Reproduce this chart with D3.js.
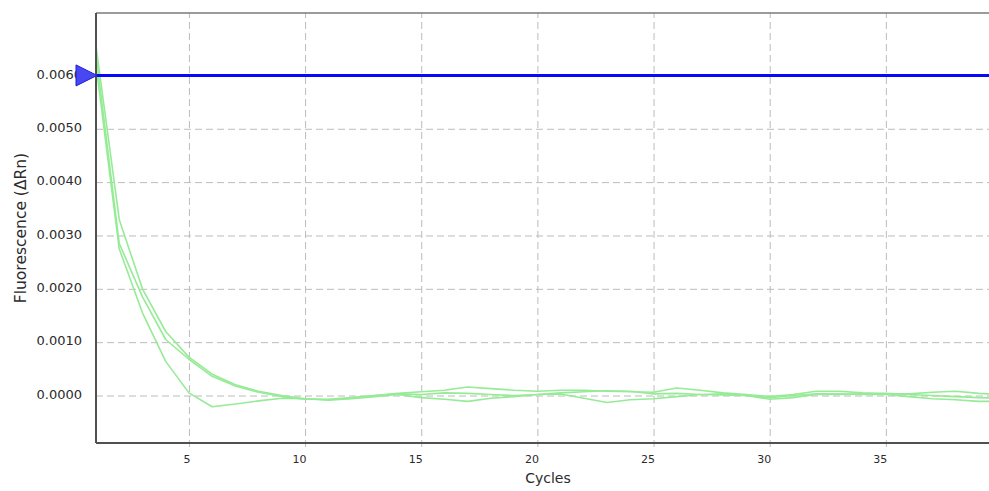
<!DOCTYPE html>
<html>
<head>
<meta charset="utf-8">
<script src="https://cdn.jsdelivr.net/npm/d3@7"></script>
<style>
  html, body { margin: 0; padding: 0; background: #fff; }
  svg { display: block; font-family: "DejaVu Sans", Verdana, sans-serif; }
</style>
</head>
<body>
<svg id="chart" width="989" height="491"></svg>
<script>
// Amplification plot: delta Rn per cycle for three wells, with threshold
const cycles = d3.range(1, 41);

const wellA = [0.00655, 0.00330, 0.00200, 0.00120, 0.00072, 0.00040, 0.00020, 0.00008, 0.00000, -0.00006,
               -0.00008, -0.00005, 0.00000, 0.00004, 0.00007, 0.00010, 0.00016, 0.00013, 0.00010, 0.00008,
               0.00010, 0.00010, 0.00008, 0.00007, 0.00006, 0.00014, 0.00010, 0.00005, 0.00002, -0.00002,
               0.00002, 0.00008, 0.00008, 0.00005, 0.00003, 0.00003, 0.00006, 0.00008, 0.00004, 0.00002];

const wellB = [0.00640, 0.00285, 0.00185, 0.00105, 0.00068, 0.00036, 0.00018, 0.00006, -0.00002, -0.00007,
               -0.00007, -0.00004, 0.00000, 0.00003, 0.00002, 0.00005, 0.00004, 0.00002, 0.00000, 0.00002,
               0.00005, 0.00007, 0.00009, 0.00008, 0.00003, 0.00004, 0.00002, 0.00001, 0.00000, -0.00004,
               0.00000, 0.00003, 0.00003, 0.00002, 0.00002, -0.00002, -0.00006, -0.00008, -0.00011, -0.00011];

const wellC = [0.00620, 0.00275, 0.00155, 0.00064, 0.00005, -0.00021, -0.00016, -0.00010, -0.00005, -0.00006,
               -0.00009, -0.00006, -0.00002, 0.00002, -0.00004, -0.00007, -0.00011, -0.00005, -0.00002, 0.00002,
               0.00003, -0.00005, -0.00013, -0.00008, -0.00006, -0.00002, 0.00002, 0.00003, 0.00000, -0.00007,
               -0.00004, 0.00002, 0.00002, 0.00003, 0.00004, 0.00002, 0.00000, -0.00002, -0.00004, -0.00005];

const wells = [wellA, wellB, wellC];

const threshold = 0.006;
const xTicks = [5, 10, 15, 20, 25, 30, 35];
const yTicks = [0, 0.001, 0.002, 0.003, 0.004, 0.005, 0.006];

const xTitle = "Cycles";
const yTitle = "Fluorescence (\u0394Rn)";

// Plot frame (the last cycles run past the window edge)
const plotLeft = 96, plotTop = 13, plotBottom = 443, plotRight = 1002;

const svg = d3.select("#chart");

const x = d3.scaleLinear().domain([1, 40]).range([plotLeft, plotRight]);
const y = d3.scaleLinear().domain([-0.00089, 0.00717]).range([plotBottom, plotTop]);

svg.append("defs").append("clipPath").attr("id", "plotClip")
  .append("rect").attr("x", plotLeft).attr("y", plotTop)
  .attr("width", plotRight - plotLeft).attr("height", plotBottom - plotTop);

// Dashed grid
const gridColor = "#bcbcbc";
const vGrid = svg.append("g")
  .attr("transform", `translate(0,${plotBottom + 4})`)
  .call(d3.axisBottom(x).tickValues(xTicks).tickSize(-(plotBottom - plotTop + 4)).tickFormat(""));
vGrid.select(".domain").remove();
vGrid.selectAll("line").attr("stroke", gridColor).attr("stroke-dasharray", "7,4").attr("stroke-width", 1);

const hGrid = svg.append("g")
  .attr("transform", `translate(${plotLeft},0)`)
  .call(d3.axisLeft(y).tickValues(yTicks).tickSize(-(plotRight - plotLeft)).tickFormat(""));
hGrid.select(".domain").remove();
hGrid.selectAll("line").attr("stroke", gridColor).attr("stroke-dasharray", "7,4").attr("stroke-width", 1);

// Well traces
const line = d3.line()
  .x((d, i) => x(cycles[i]))
  .y(d => y(d));

svg.append("g").attr("clip-path", "url(#plotClip)")
  .selectAll("path").data(wells).join("path")
  .attr("d", line)
  .attr("fill", "none")
  .attr("stroke", "#96eb96")
  .attr("stroke-width", 1.6)
  .attr("stroke-linejoin", "round");

// Threshold line
svg.append("line")
  .attr("x1", plotLeft).attr("x2", plotRight)
  .attr("y1", y(threshold)).attr("y2", y(threshold))
  .attr("stroke", "#0808ff").attr("stroke-width", 3);

// Frame
svg.append("line").attr("x1", plotLeft).attr("x2", plotRight).attr("y1", plotTop).attr("y2", plotTop)
  .attr("stroke", "#7a7a7a").attr("stroke-width", 1.6);
svg.append("line").attr("x1", plotLeft).attr("x2", plotRight).attr("y1", plotBottom).attr("y2", plotBottom)
  .attr("stroke", "#505050").attr("stroke-width", 2);
svg.append("line").attr("x1", plotLeft).attr("x2", plotLeft).attr("y1", plotTop).attr("y2", plotBottom)
  .attr("stroke", "#505050").attr("stroke-width", 2);

// Axis labels
const yAxis = svg.append("g")
  .attr("transform", `translate(${plotLeft},0)`)
  .call(d3.axisLeft(y).tickValues(yTicks).tickSize(0).tickPadding(14).tickFormat(d3.format(".4f")));
yAxis.select(".domain").remove();
yAxis.selectAll("text")
  .attr("font-family", "DejaVu Sans, Verdana, sans-serif")
  .attr("font-size", 13).attr("fill", "#2b2b2b").attr("dy", "0.2em");

const xAxis = svg.append("g")
  .attr("transform", `translate(0,${plotBottom})`)
  .call(d3.axisBottom(x).tickValues(xTicks).tickSize(0).tickPadding(12).tickFormat(d3.format("d")));
xAxis.select(".domain").remove();
xAxis.selectAll("text")
  .attr("font-family", "DejaVu Sans, Verdana, sans-serif")
  .attr("font-size", 11).attr("fill", "#2b2b2b")
  .attr("text-anchor", "end").attr("dx", "1");

svg.append("text")
  .attr("x", 548).attr("y", 483)
  .attr("text-anchor", "middle")
  .attr("font-size", 14).attr("fill", "#2b2b2b")
  .text(xTitle);

svg.append("text")
  .attr("transform", `translate(26,${(plotTop + plotBottom) / 2}) rotate(-90)`)
  .attr("text-anchor", "middle")
  .attr("font-size", 15.5).attr("fill", "#2b2b2b")
  .text(yTitle);

// Threshold handle
const ty = y(threshold);
svg.append("path")
  .attr("d", `M${plotLeft + 1},${ty} L${plotLeft - 20},${ty - 10.5} L${plotLeft - 20},${ty + 10.5} Z`)
  .attr("fill", "#4848f2").attr("stroke", "#1c1cd8").attr("stroke-width", 1);
</script>
</body>
</html>
